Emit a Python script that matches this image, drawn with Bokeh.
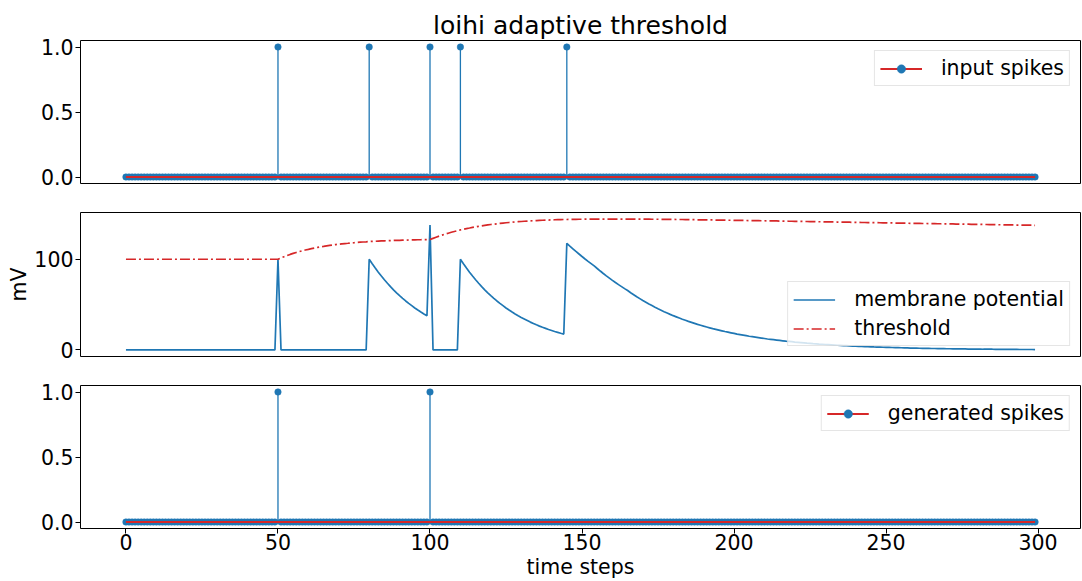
from bokeh.plotting import figure
from bokeh.layouts import column
from bokeh.models import (Range1d, FixedTicker, PrintfTickFormatter, Legend, LegendItem,
                          ColumnDataSource)
from bokeh.embed import file_html
from bokeh.resources import INLINE

# ---------------- data ----------------
time_steps = list(range(300))
input_spike_times = [50, 80, 100, 110, 145]
output_spike_times = [50, 100]

membrane_potential = (
    [0.0] * 50 + [100.0] + [0.0] * 29
    + [100.0, 95.0, 90.3, 85.7, 81.5, 77.4, 73.5, 69.8, 66.3, 63.0,
       59.9, 56.9, 54.0, 51.3, 48.8, 46.3, 44.0, 41.8, 39.7, 37.7]
    + [137.7] + [0.0] * 9
    + [100.0, 95.0, 90.3, 85.7, 81.5, 77.4, 73.5, 69.8, 66.3, 63.0,
       59.9, 56.9, 54.0, 51.3, 48.8, 46.3, 44.0, 41.8, 39.7, 37.7,
       35.8, 34.1, 32.4, 30.7, 29.2, 27.7, 26.3, 25.0, 23.8, 22.6,
       21.5, 20.4, 19.4, 18.4, 17.5]
    + [117.5, 114.4, 111.5, 108.6, 105.8, 103.0, 100.3, 97.7, 95.2, 92.7,
       89.8, 87.0, 84.3, 81.7, 79.2, 76.7, 74.3, 72.0, 69.8, 67.6,
       65.5, 63.1, 60.9, 58.7, 56.6, 54.5, 52.6, 50.7, 48.9, 47.1,
       45.4, 43.8, 42.2, 40.7, 39.2, 37.8, 36.5, 35.2, 33.9, 32.7,
       31.5, 30.4, 29.3, 28.2, 27.2, 26.2, 25.3, 24.4, 23.5, 22.7,
       21.9, 21.1, 20.3, 19.6, 18.9, 18.2, 17.5, 16.9, 16.3, 15.7,
       15.1, 14.6, 14.1, 13.6, 13.1, 12.6, 12.1, 11.7, 11.3, 10.9,
       10.5, 10.1, 9.7, 9.4, 9.1, 8.7, 8.4, 8.1, 7.8, 7.5,
       7.3, 7.0, 6.8, 6.5, 6.3, 6.0, 5.8, 5.6, 5.4, 5.2,
       5.0, 4.8, 4.7, 4.5, 4.3, 4.2, 4.0, 3.9, 3.7, 3.6,
       3.5, 3.3, 3.2, 3.1, 3.0, 2.9, 2.8, 2.7, 2.6, 2.5,
       2.4, 2.3, 2.2, 2.1, 2.0, 2.0, 1.9, 1.8, 1.7, 1.7,
       1.6, 1.6, 1.5, 1.4, 1.4, 1.3, 1.3, 1.2, 1.2, 1.2,
       1.1, 1.1, 1.0, 1.0, 1.0, 0.9, 0.9, 0.8, 0.8, 0.8,
       0.8, 0.7, 0.7, 0.7, 0.6, 0.6, 0.6, 0.6, 0.6, 0.5,
       0.5, 0.5, 0.5, 0.5, 0.4]
)

threshold = (
    [100.0] * 51
    + [101.5, 102.8, 104.1, 105.3, 106.4, 107.4, 108.4, 109.3, 110.2, 110.9,
       111.7, 112.4, 113.0, 113.7, 114.2, 114.8, 115.3, 115.7, 116.2, 116.6,
       117.0, 117.3, 117.6, 118.0, 118.2, 118.5, 118.8, 119.0, 119.2, 119.5,
       119.7, 119.8, 120.0, 120.2, 120.3, 120.5, 120.6, 120.7, 120.8, 120.9,
       121.0, 121.1, 121.2, 121.3, 121.4, 121.5, 121.5, 121.6, 121.6, 121.7]
    + [123.0, 124.3, 125.5, 126.6, 127.7, 128.7, 129.7, 130.6, 131.4, 132.3,
       133.0, 133.8, 134.4, 135.1, 135.7, 136.3, 136.8, 137.3, 137.8, 138.3,
       138.7, 139.1, 139.5, 139.9, 140.2, 140.5, 140.8, 141.1, 141.4, 141.6,
       141.9, 142.1, 142.3, 142.5, 142.6, 142.8, 143.0, 143.1, 143.2, 143.4,
       143.5, 143.6, 143.7, 143.8, 143.8, 143.9, 144.0, 144.0, 144.1, 144.1,
       144.2, 144.2, 144.2, 144.3, 144.3, 144.3, 144.3, 144.3, 144.3, 144.3,
       144.3, 144.3, 144.3, 144.3, 144.3, 144.3, 144.3, 144.2, 144.2, 144.2,
       144.2, 144.2, 144.1, 144.1, 144.1, 144.0, 144.0, 144.0, 143.9, 143.9,
       143.8, 143.8, 143.8, 143.7, 143.7, 143.6, 143.6, 143.5, 143.5, 143.4,
       143.4, 143.3, 143.3, 143.2, 143.2, 143.1, 143.1, 143.0, 143.0, 142.9,
       142.9, 142.8, 142.8, 142.7, 142.6, 142.6, 142.5, 142.5, 142.4, 142.4,
       142.3, 142.3, 142.2, 142.2, 142.1, 142.0, 142.0, 141.9, 141.9, 141.8,
       141.8, 141.7, 141.6, 141.6, 141.5, 141.5, 141.4, 141.3, 141.3, 141.2,
       141.2, 141.1, 141.1, 141.0, 140.9, 140.9, 140.8, 140.8, 140.7, 140.7,
       140.6, 140.5, 140.5, 140.4, 140.4, 140.3, 140.3, 140.2, 140.1, 140.1,
       140.0, 140.0, 139.9, 139.9, 139.8, 139.7, 139.7, 139.6, 139.6, 139.5,
       139.5, 139.4, 139.4, 139.3, 139.3, 139.2, 139.1, 139.1, 139.0, 139.0,
       138.9, 138.9, 138.8, 138.8, 138.7, 138.6, 138.6, 138.5, 138.5, 138.4,
       138.4, 138.3, 138.3, 138.2, 138.2, 138.1, 138.0, 138.0, 137.9, 137.9,
       137.8, 137.8, 137.7, 137.7, 137.6, 137.6, 137.5, 137.5, 137.4]
)

x_ticks = [0, 50, 100, 150, 200, 250, 300]
spike_ticks = [0, 0.5, 1.0]
mv_ticks = [0, 100]

# ---------------- style ----------------
BLUE = "#1f77b4"
RED = "#d62728"
FONT = "DejaVu Sans"
FS = "20.5px"
W = 1081
LEFT = 80

input_spikes = [1.0 if t in input_spike_times else 0.0 for t in time_steps]
generated_spikes = [1.0 if t in output_spike_times else 0.0 for t in time_steps]

x_range = Range1d(-14.95, 313.95)


def style(p):
    p.xgrid.visible = False
    p.ygrid.visible = False
    p.outline_line_color = "black"
    p.outline_line_alpha = 1.0
    p.outline_line_width = 1
    p.background_fill_color = "white"
    p.border_fill_color = "white"
    for ax in (p.xaxis, p.yaxis):
        ax.axis_line_color = None
        ax.major_tick_line_color = "black"
        ax.major_tick_out = 5
        ax.major_tick_in = 0
        ax.minor_tick_line_color = None
        ax.major_label_text_font = FONT
        ax.major_label_text_font_size = FS
        ax.major_label_text_color = "black"
        ax.axis_label_text_font = FONT
        ax.axis_label_text_font_size = FS
        ax.axis_label_text_font_style = "normal"
        ax.axis_label_text_color = "black"
    p.yaxis.major_label_standoff = 2
    p.yaxis.axis_label_standoff = 0
    p.xaxis.major_label_standoff = 0
    p.xaxis.axis_label_standoff = 2
    p.xaxis.ticker = FixedTicker(ticks=x_ticks)


def make_legend(items, location):
    lg = Legend(items=items, location=location)
    lg.label_text_font = FONT
    lg.label_text_font_size = FS
    lg.label_text_color = "black"
    lg.glyph_width = 42
    lg.glyph_height = 21
    lg.label_height = 21
    lg.label_standoff = 19
    lg.padding = 5
    lg.spacing = 5
    lg.margin = 10
    lg.border_line_color = "#cccccc"
    lg.border_line_width = 1
    lg.background_fill_alpha = 0.8
    return lg


def stem(p, values, label):
    src = ColumnDataSource(dict(x=time_steps, y=values, y0=[0.0] * len(values)))
    p.segment(x0="x", y0="y0", x1="x", y1="y", source=src, line_color=BLUE, line_width=1.3)
    r_mark = p.scatter(x="x", y="y", source=src, size=6.5, marker="circle",
                       fill_color=BLUE, line_color=BLUE, line_width=0.5)
    r_base = p.line(x=[time_steps[0], time_steps[-1]], y=[0, 0], line_color=RED, line_width=2)
    p.add_layout(make_legend([LegendItem(label=label, renderers=[r_base, r_mark])], "top_right"))


# ---------------- top: input spikes ----------------
p1 = figure(width=W, height=197, x_range=x_range, y_range=Range1d(-0.05, 1.05),
            output_backend="svg", toolbar_location=None,
            min_border_left=LEFT, min_border_right=1, min_border_top=40, min_border_bottom=14)
style(p1)
p1.xaxis.visible = False
p1.yaxis.ticker = FixedTicker(ticks=spike_ticks)
p1.yaxis.formatter = PrintfTickFormatter(format="%.1f")
p1.title.text = "loihi adaptive threshold"
p1.title.align = "center"
p1.title.text_font = FONT
p1.title.text_font_size = "25px"
p1.title.text_font_style = "normal"
p1.title.text_color = "black"
p1.title.standoff = 2
stem(p1, input_spikes, "input spikes")

# ---------------- middle: membrane potential ----------------
p2 = figure(width=W, height=173, x_range=x_range, y_range=Range1d(-7.22, 151.52),
            output_backend="svg", toolbar_location=None,
            min_border_left=LEFT, min_border_right=1, min_border_top=15, min_border_bottom=14)
style(p2)
p2.xaxis.visible = False
p2.yaxis.ticker = FixedTicker(ticks=mv_ticks)
p2.yaxis.axis_label = "mV"
r_mem = p2.line(time_steps, membrane_potential, line_color=BLUE, line_width=1.7)
r_th = p2.line(time_steps, threshold, line_color=RED, line_width=1.7, line_dash="10 3 2 3")
p2.add_layout(make_legend([LegendItem(label="membrane potential", renderers=[r_mem]),
                           LegendItem(label="threshold", renderers=[r_th])], "bottom_right"))

# ---------------- bottom: generated spikes ----------------
p3 = figure(width=W, height=211, x_range=x_range, y_range=Range1d(-0.05, 1.05),
            output_backend="svg", toolbar_location=None,
            min_border_left=LEFT, min_border_right=1, min_border_top=15, min_border_bottom=52)
style(p3)
p3.yaxis.ticker = FixedTicker(ticks=spike_ticks)
p3.yaxis.formatter = PrintfTickFormatter(format="%.1f")
p3.xaxis.axis_label = "time steps"
stem(p3, generated_spikes, "generated spikes")

layout = column(p1, p2, p3)
open("out.html", "w").write(file_html(layout, INLINE))
